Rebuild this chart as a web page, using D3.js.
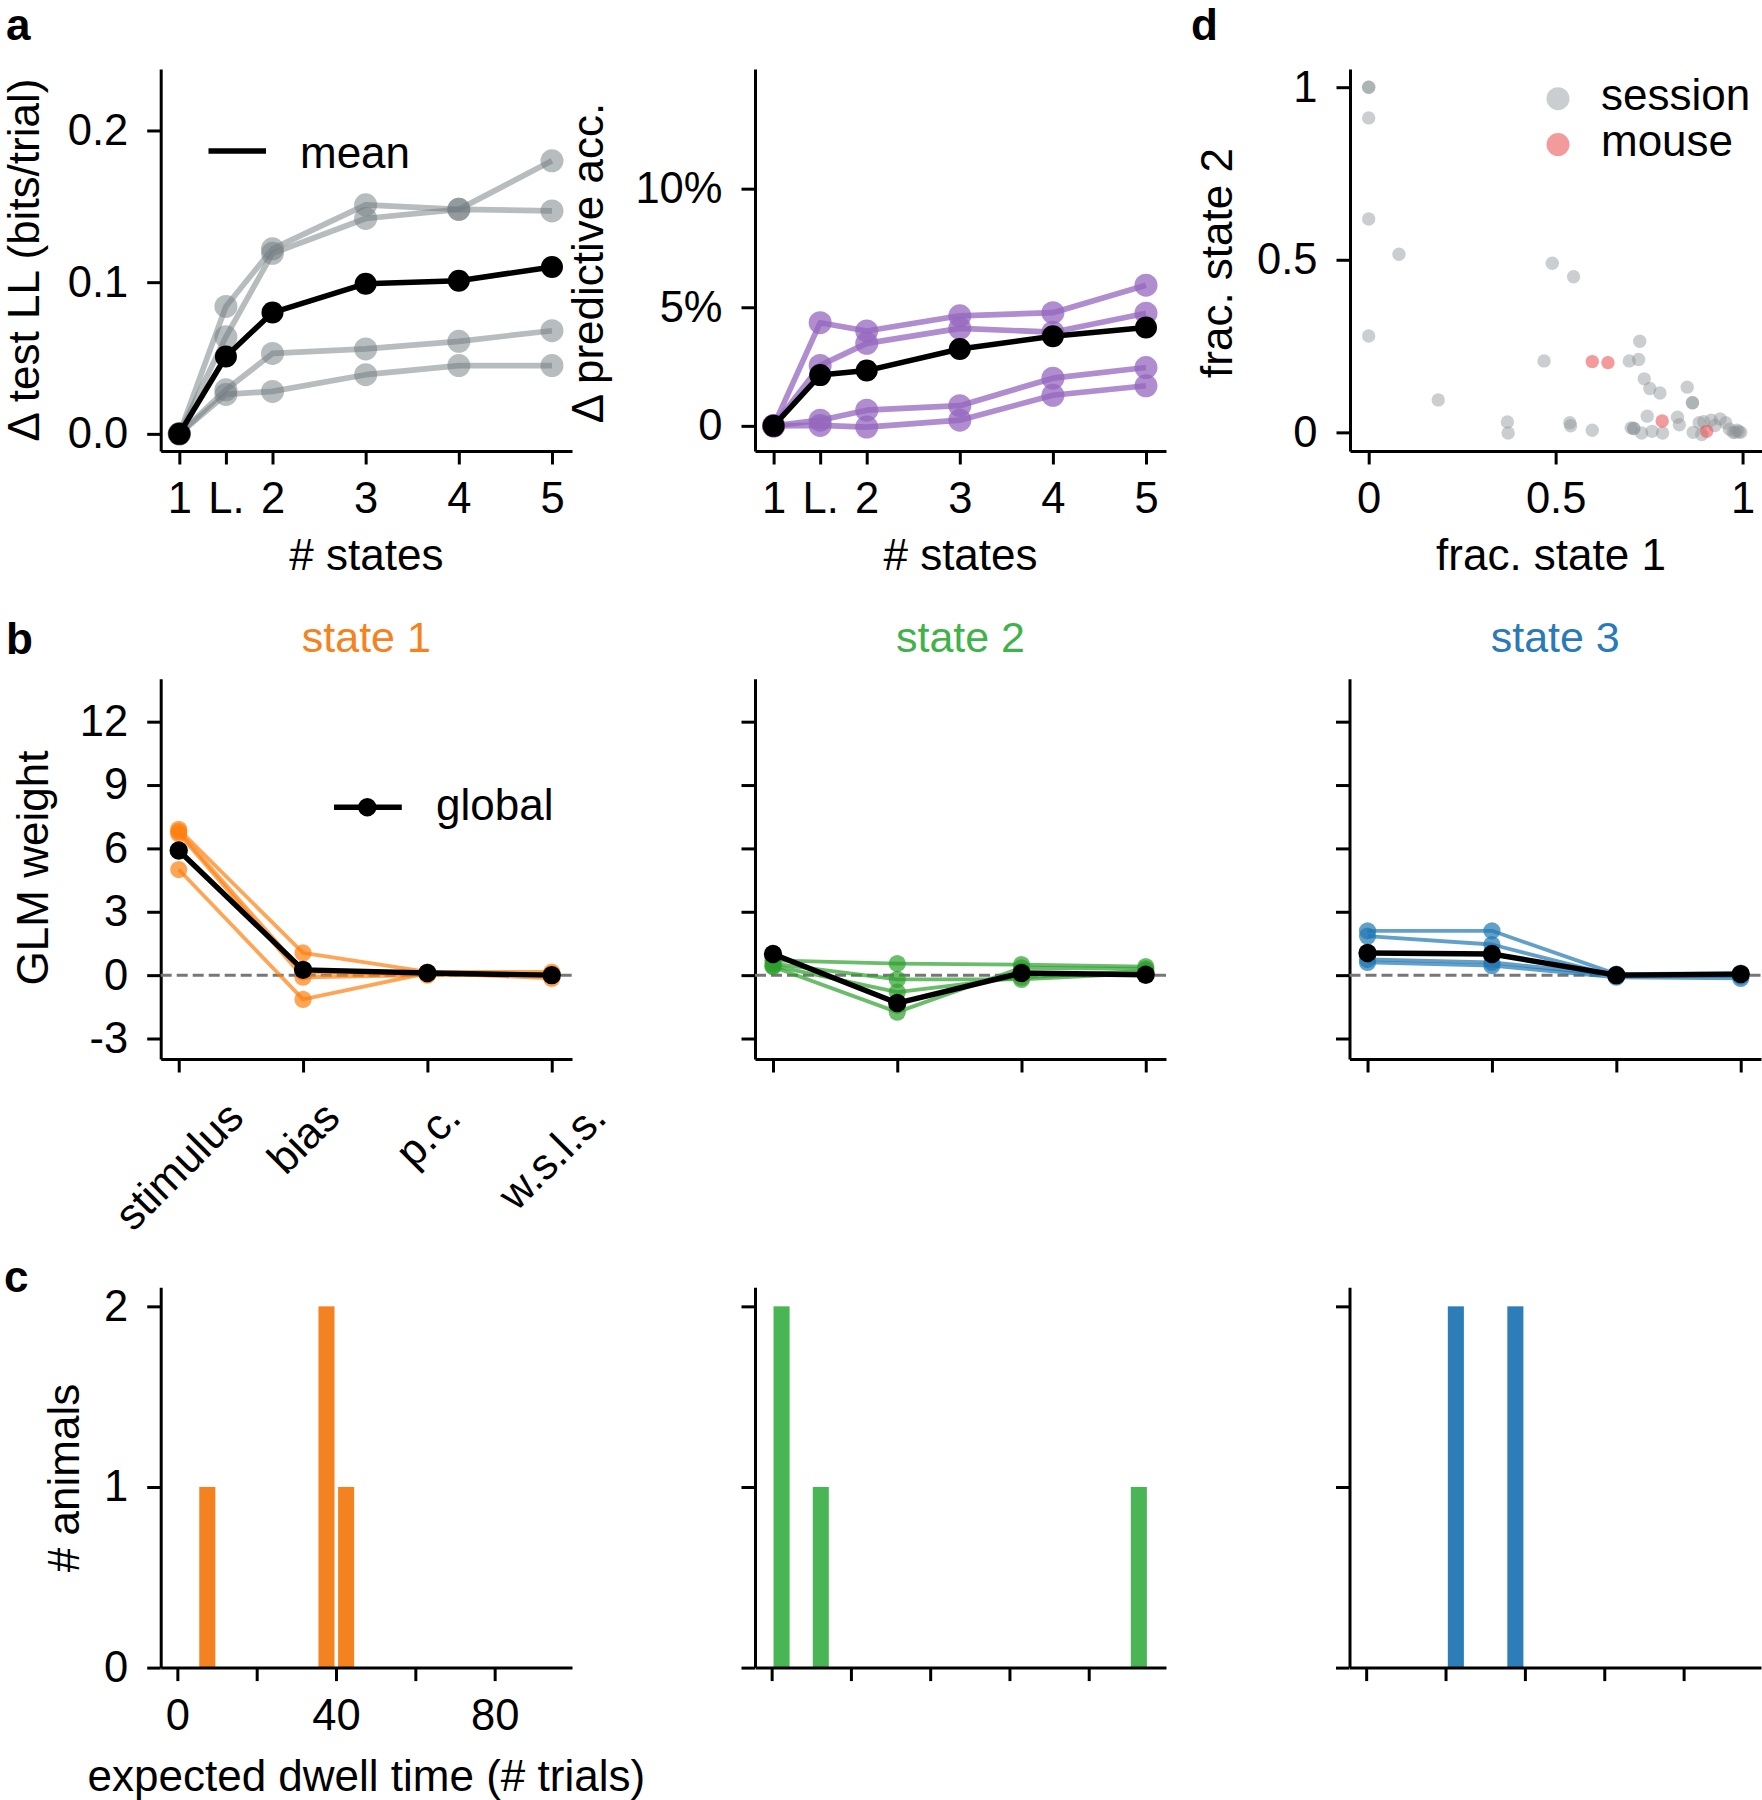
<!DOCTYPE html>
<html>
<head>
<meta charset="utf-8">
<script src="https://cdn.jsdelivr.net/npm/d3@7"></script>
<style>
body { margin: 0; background: #fff; }
text { font-family: "Liberation Sans", Arial, Helvetica, sans-serif; }
</style>
</head>
<body>
<div id="fig"></div>
<script>
// ---- data ----
var nStates = [1, 1.5, 2, 3, 4, 5]
var nStateLabels = ["1", "L.", "2", "3", "4", "5"]

// a, left: delta test LL per animal + mean
var llAnimals = [
    [0, 0.084, 0.122, 0.151, 0.148, 0.180],
    [0, 0.064, 0.119, 0.142, 0.148, 0.147],
    [0, 0.029, 0.053, 0.056, 0.061, 0.068],
    [0, 0.026, 0.028, 0.039, 0.045, 0.045]
]
var llMean = [0, 0.051, 0.080, 0.099, 0.101, 0.110]

// a, right: delta predictive accuracy (%)
var accAnimals = [
    [0, 4.35, 4.00, 4.64, 4.77, 5.93],
    [0, 2.55, 3.48, 4.11, 3.95, 4.75],
    [0, 0.24, 0.66, 0.85, 2.01, 2.46],
    [0, 0.02, -0.05, 0.24, 1.29, 1.69]
]
var accMean = [0, 2.14, 2.33, 3.24, 3.78, 4.15]

// b: GLM weights per state
var weightNames = ["stimulus", "bias", "p.c.", "w.s.l.s."]
var state1Animals = [
    [6.9, 1.05, 0.15, 0.15],
    [6.7, -0.1, 0.0, 0.05],
    [6.8, 0.15, 0.05, 0.0],
    [5.0, -1.15, 0.1, -0.15]
]
var state1Global = [5.9, 0.25, 0.1, 0.0]
var state2Animals = [
    [0.7, 0.55, 0.5, 0.4],
    [0.55, -0.2, -0.2, 0.1],
    [0.45, -0.8, -0.1, 0.2],
    [0.4, -1.75, 0.35, 0.3]
]
var state2Global = [1.0, -1.32, 0.1, 0.02]
var state3Animals = [
    [2.1, 2.1, 0.05, 0.1],
    [1.85, 1.45, -0.05, -0.05],
    [0.75, 0.6, 0.0, 0.05],
    [0.6, 0.45, -0.1, -0.15]
]
var state3Global = [1.05, 1.0, 0.0, 0.05]

// c: expected dwell time histograms (bin centre, # animals)
var dwell1Bins = [7.55, 37.6, 42.55]
var dwell1Counts = [1, 2, 1]
var dwell2Bins = [2.5, 12.4, 92.65]
var dwell2Counts = [2, 1, 1]
var dwell3Bins = [22.6, 37.6]
var dwell3Counts = [2, 2]

// d: fraction of trials in state 1 / state 2
var sessionFrac1 = [0, 0, 0, 0, 0.081, 0, 0.186, 0.371, 0.373, 0.491, 0.548, 0.469, 0.538, 0.540, 0.598,
    0.725, 0.697, 0.722, 0.737, 0.752, 0.779, 0.745, 0.702, 0.709, 0.709, 0.730, 0.758, 0.786, 0.826, 0.831,
    0.852, 0.866, 0.866, 0.884, 0.868, 0.896, 0.916, 0.926, 0.940, 0.955, 0.965, 0.975, 0.985, 0.995, 0.891, 0.99, 0.98]
var sessionFrac2 = [1.0, 1.0, 0.911, 0.618, 0.516, 0.279, 0.094, 0.030, -0.002, 0.490, 0.451, 0.207, 0.028, 0.019, 0.006,
    0.264, 0.207, 0.211, 0.155, 0.127, 0.114, 0.047, 0.013, 0.011, 0.011, -0.002, 0.003, -0.002, 0.044, 0.022,
    0.131, 0.086, 0.086, 0.028, 0.0, 0.031, 0.035, 0.020, 0.039, 0.028, 0.009, 0.0, 0.006, 0.0, -0.006, 0.002, 0.0]
var mouseFrac1 = [0.598, 0.640, 0.785, 0.904]
var mouseFrac2 = [0.205, 0.202, 0.033, 0.003]

// ---- styling ----
var tickFont = 43.5
var labelFont = 44
var orange = "#ff7f0e", green = "#2ca02c", blue = "#1f77b4", purple = "#9467bd"

var svg = d3.select("#fig").append("svg")
    .attr("width", 1762)
    .attr("height", 1800)

function panel(x0, x1, y0, y1, xdom, ydom) {
    return {
        x: d3.scaleLinear().domain(xdom).range([x0, x1]),
        y: d3.scaleLinear().domain(ydom).range([y1, y0]),
        x0: x0, x1: x1, y0: y0, y1: y1
    }
}

function styleAxis(g) {
    g.attr("font-family", null).attr("font-size", tickFont)
    g.select(".domain").attr("stroke-width", 3)
    g.selectAll(".tick line").attr("stroke-width", 3)
    g.selectAll(".tick text").attr("fill", "#000")
}

function axes(p, xticks, xfmt, yticks, yfmt) {
    svg.append("g")
        .attr("transform", `translate(0,${p.y1})`)
        .call(d3.axisBottom(p.x).tickValues(xticks).tickFormat(xfmt)
            .tickSize(13.5).tickPadding(18).tickSizeOuter(0))
        .call(styleAxis)
    svg.append("g")
        .attr("transform", `translate(${p.x0},0)`)
        .call(d3.axisLeft(p.y).tickValues(yticks).tickFormat(yfmt)
            .tickSize(13.5).tickPadding(19).tickSizeOuter(0))
        .call(styleAxis)
}

function series(p, xs, ys, color, opacity, lw, r) {
    var g = svg.append("g")
    var line = d3.line().x((d, i) => p.x(xs[i])).y(d => p.y(d))
    g.append("path").datum(ys)
        .attr("d", line)
        .attr("fill", "none")
        .attr("stroke", color)
        .attr("stroke-opacity", opacity)
        .attr("stroke-width", lw)
        .attr("stroke-linejoin", "round")
    g.selectAll("circle").data(ys).enter().append("circle")
        .attr("cx", (d, i) => p.x(xs[i]))
        .attr("cy", d => p.y(d))
        .attr("r", r)
        .attr("fill", color)
        .attr("fill-opacity", opacity)
}

function ylabel(txt, x, y) {
    svg.append("text")
        .attr("transform", `translate(${x},${y}) rotate(-90)`)
        .attr("text-anchor", "middle")
        .attr("font-size", labelFont)
        .text(txt)
}

function label(txt, x, y, opts) {
    opts = opts || {}
    return svg.append("text")
        .attr("x", x).attr("y", y)
        .attr("text-anchor", opts.anchor || "middle")
        .attr("font-size", opts.size || labelFont)
        .attr("font-weight", opts.weight || "normal")
        .attr("fill", opts.fill || "#000")
        .text(txt)
}

var col1 = [160.7, 572], col2 = [755, 1166], col3 = [1349.5, 1761]
var rowA = [68.9, 451], rowB = [678.8, 1059], rowC = [1287.2, 1667.6]

// ---- panel a, left ----
var pa1 = panel(col1[0], col1[1], rowA[0], rowA[1], [0.8, 5.215], [-0.0113, 0.2406])
axes(pa1, nStates, (d, i) => nStateLabels[i], [0, 0.1, 0.2], d3.format(".1f"))
llAnimals.forEach(s => series(pa1, nStates, s, "#6f7a80", 0.5, 5.7, 11.5))
series(pa1, nStates, llMean, "#000", 1, 5.5, 11)
ylabel("Δ test LL (bits/trial)", 39, 260)
label("# states", (col1[0] + col1[1]) / 2, 570)
svg.append("line").attr("x1", 208.5).attr("x2", 266).attr("y1", 151).attr("y2", 151)
    .attr("stroke", "#000").attr("stroke-width", 5.5)
label("mean", 300, 168, {anchor: "start"})

// ---- panel a, right ----
var pa2 = panel(col2[0], col2[1], rowA[0], rowA[1], [0.8, 5.215], [-1.06, 15.05])
axes(pa2, nStates, (d, i) => nStateLabels[i], [0, 5, 10], d => d === 0 ? "0" : d + "%")
accAnimals.forEach(s => series(pa2, nStates, s, purple, 0.75, 5.7, 11.5))
series(pa2, nStates, accMean, "#000", 1, 5.5, 11)
ylabel("Δ predictive acc.", 603, 263)
label("# states", (col2[0] + col2[1]) / 2, 570)

// ---- panel d ----
var pd = panel(1350, 1762, rowA[0], rowA[1], [-0.05, 1.052], [-0.054, 1.053])
axes(pd, [0, 0.5, 1], d => d === 0.5 ? "0.5" : String(d), [0, 0.5, 1], d => d === 0.5 ? "0.5" : String(d))
svg.append("g").selectAll("circle").data(sessionFrac1).enter().append("circle")
    .attr("cx", d => pd.x(d))
    .attr("cy", (d, i) => pd.y(sessionFrac2[i]))
    .attr("r", 6.7)
    .attr("fill", "#8c9296").attr("fill-opacity", 0.45)
svg.append("g").selectAll("circle").data(mouseFrac1).enter().append("circle")
    .attr("cx", d => pd.x(d))
    .attr("cy", (d, i) => pd.y(mouseFrac2[i]))
    .attr("r", 6.7)
    .attr("fill", "#e8474a").attr("fill-opacity", 0.55)
ylabel("frac. state 2", 1232, 263)
label("frac. state 1", 1551, 570)
svg.append("circle").attr("cx", 1558).attr("cy", 98.7).attr("r", 11.5)
    .attr("fill", "#8c9296").attr("fill-opacity", 0.45)
svg.append("circle").attr("cx", 1558).attr("cy", 144.6).attr("r", 11.5)
    .attr("fill", "#e8474a").attr("fill-opacity", 0.55)
label("session", 1601, 110, {anchor: "start"})
label("mouse", 1601, 156, {anchor: "start"})

// ---- panel b ----
var idx = [0, 1, 2, 3]
var bStates = [
    {col: col1, animals: state1Animals, glob: state1Global, color: orange, title: "state 1", tcol: "#f58220"},
    {col: col2, animals: state2Animals, glob: state2Global, color: green, title: "state 2", tcol: "#3fb34a"},
    {col: col3, animals: state3Animals, glob: state3Global, color: blue, title: "state 3", tcol: "#2a7ab8"}
]
bStates.forEach((st, k) => {
    var p = panel(st.col[0], st.col[1], rowB[0], rowB[1], [-0.145, 3.163], [-3.97, 14.03])
    axes(p, idx, () => "", [-3, 0, 3, 6, 9, 12], k === 0 ? (d => String(d)) : (() => ""))
    svg.append("line")
        .attr("x1", p.x0).attr("x2", p.x1)
        .attr("y1", p.y(0)).attr("y2", p.y(0))
        .attr("stroke", "#777").attr("stroke-width", 3).attr("stroke-dasharray", "11,5")
    st.animals.forEach(s => series(p, idx, s, st.color, 0.7, 3.8, 8.6))
    series(p, idx, st.glob, "#000", 1, 5.4, 9.2)
    label(st.title, (st.col[0] + st.col[1]) / 2, 652, {fill: st.tcol, size: 43})

    if (k === 0) {
        // rotated category labels, centred under each tick
        weightNames.forEach((nm, i) => {
            var t = svg.append("text")
                .attr("text-anchor", "middle")
                .attr("dy", "0.35em")
                .attr("font-size", tickFont)
                .text(nm)
            var w = t.node().getComputedTextLength()
            var h = (w + 0.72 * tickFont) / Math.SQRT2
            t.attr("transform", `translate(${p.x(i)},${1098 + h / 2}) rotate(-45)`)
        })
        ylabel("GLM weight", 48, 868)
        svg.append("line").attr("x1", 334).attr("x2", 401.8).attr("y1", 807.3).attr("y2", 807.3)
            .attr("stroke", "#000").attr("stroke-width", 5.4)
        svg.append("circle").attr("cx", 367.3).attr("cy", 807.3).attr("r", 9.2).attr("fill", "#000")
        label("global", 436, 820, {anchor: "start"})
    }
})

// ---- panel c ----
var barW = 4.05
var cStates = [
    {col: col1, bins: dwell1Bins, counts: dwell1Counts, fill: "#f58220"},
    {col: col2, bins: dwell2Bins, counts: dwell2Counts, fill: "#4ab554"},
    {col: col3, bins: dwell3Bins, counts: dwell3Counts, fill: "#2d7eb8"}
]
cStates.forEach((st, k) => {
    var p = panel(st.col[0], st.col[1], rowC[0], rowC[1], [-4.2, 99.5], [0, 2.106])
    svg.append("g").selectAll("rect").data(st.bins).enter().append("rect")
        .attr("x", d => p.x(d - barW / 2))
        .attr("width", d => p.x(d + barW / 2) - p.x(d - barW / 2))
        .attr("y", (d, i) => p.y(st.counts[i]))
        .attr("height", (d, i) => p.y(0) - p.y(st.counts[i]))
        .attr("fill", st.fill)
    axes(p, [0, 20, 40, 60, 80], k === 0 ? (d => d % 40 === 0 ? String(d) : "") : (() => ""),
        [0, 1, 2], k === 0 ? (d => String(d)) : (() => ""))
    if (k === 0) {
        ylabel("# animals", 79, 1478)
        label("expected dwell time (# trials)", (col1[0] + col1[1]) / 2, 1791)
    }
})

// panel letters
label("a", 6, 40, {anchor: "start", weight: "bold", size: 44})
label("b", 6, 654, {anchor: "start", weight: "bold", size: 44})
label("c", 4, 1292, {anchor: "start", weight: "bold", size: 44})
label("d", 1191, 40, {anchor: "start", weight: "bold", size: 44})
</script>
</body>
</html>
